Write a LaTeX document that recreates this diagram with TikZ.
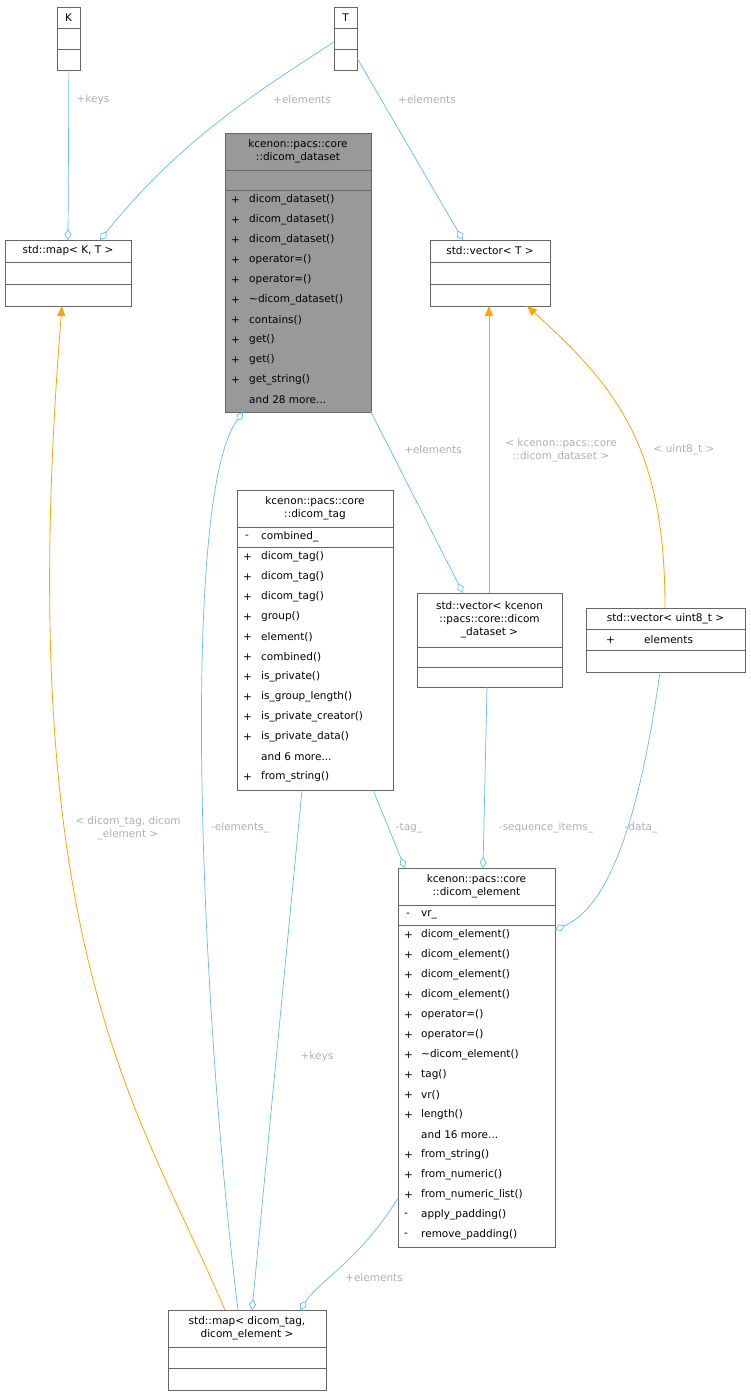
\documentclass[tikz,border=0pt]{standalone}
\usepackage{fontspec}
\setmainfont{DejaVu Sans}
\usetikzlibrary{arrows.meta}
\definecolor{edgeb}{HTML}{63B8FF}
\definecolor{edgeo}{HTML}{FFA500}
\definecolor{lbl}{HTML}{B0B0B0}
\definecolor{bord}{HTML}{666666}
\begin{document}
\begin{tikzpicture}[x=1pt,y=-1pt,
  box/.style={draw=bord,line width=0.8pt,fill=white,inner sep=0,anchor=north west},
  sep/.style={draw=bord,line width=0.8pt},
  ttl/.style={font=\fontsize{10.5}{13}\selectfont,align=center,inner sep=0},
  row/.style={font=\fontsize{10.5}{12}\selectfont,anchor=west,inner sep=0},
  lb/.style={font=\fontsize{10.5}{13}\selectfont,text=lbl,align=center,inner sep=0},
  agg/.style={draw=edgeb,line width=0.7pt,-{Diamond[open,fill=white,length=11pt,width=7pt]}},
  inh/.style={draw=edgeo,line width=0.8pt,-{Triangle[length=10pt,width=8pt]}}]
\useasboundingbox (0,0) rectangle (751,1396);
% K
\node[box,minimum width=23pt,minimum height=63pt] (K) at (57,7) {};
\draw[sep] (57,28)--(80,28) (57,49)--(80,49);
\node[ttl] (Kt) at (68.5,17.5) {K};
% T
\node[box,minimum width=23pt,minimum height=63pt] (T) at (334,7) {};
\draw[sep] (334,28)--(357,28) (334,49)--(357,49);
\node[ttl] (Tt) at (345.5,17.5) {T};
% map<K,T>
\node[box,minimum width=126pt,minimum height=66pt] (mapKT) at (5,240) {};
\draw[sep] (5,262)--(131,262) (5,284)--(131,284);
\node[ttl] (mapKTt) at (68,251) {std::map< K, T >};
% vector<T>
\node[box,minimum width=120pt,minimum height=66pt] (vecT) at (430,240) {};
\draw[sep] (430,262)--(550,262) (430,284)--(550,284);
\node[ttl] (vecTt) at (490,251) {std::vector< T >};
% dataset
\node[box,fill=black!40,minimum width=146pt,minimum height=279pt] (ds) at (225,133) {};
\draw[sep] (225,170)--(371,170) (225,190)--(371,190);
\node[ttl] (dst) at (298,151.5) {kcenon::pacs::core\\::dicom\_dataset};
\foreach \t [count=\i from 0] in {dicom\_dataset(),dicom\_dataset(),dicom\_dataset(),operator=(),operator=(),\textasciitilde dicom\_dataset(),contains(),get(),get(),get\_string()}
  {\node[row] at (231,200+20*\i) {+}; \node[row] at (249,200+20*\i) {\t};}
\node[row] at (249,400) {and 28 more...};
% dicom_tag
\node[box,minimum width=156pt,minimum height=300pt] (tag) at (237,490) {};
\draw[sep] (237,527)--(393,527) (237,547)--(393,547);
\node[ttl] (tagt) at (315,508.5) {kcenon::pacs::core\\::dicom\_tag};
\node[row] at (245,537) {-}; \node[row] at (261,537) {combined\_};
\foreach \t [count=\i from 0] in {dicom\_tag(),dicom\_tag(),dicom\_tag(),group(),element(),combined(),is\_private(),is\_group\_length(),is\_private\_creator(),is\_private\_data()}
  {\node[row] at (243,557+20*\i) {+}; \node[row] at (261,557+20*\i) {\t};}
\node[row] at (261,757) {and 6 more...};
\node[row] at (243,777) {+}; \node[row] at (261,777) {from\_string()};
% vector<dataset>
\node[box,minimum width=145pt,minimum height=94pt] (vecD) at (417,593) {};
\draw[sep] (417,647)--(562,647) (417,667)--(562,667);
\node[ttl] (vecDt) at (489.5,620) {std::vector< kcenon\\::pacs::core::dicom\\\_dataset >};
% vector<uint8_t>
\node[box,minimum width=159pt,minimum height=64pt] (vecU) at (586,608) {};
\draw[sep] (586,629)--(745,629) (586,650)--(745,650);
\node[ttl] (vecUt) at (665.5,618.5) {std::vector< uint8\_t >};
\node[row] at (606,640) {+}; \node[row] at (644,640) {elements};
% dicom_element
\node[box,minimum width=157pt,minimum height=379pt] (el) at (398,868) {};
\draw[sep] (398,905)--(555,905) (398,925)--(555,925);
\node[ttl] (elt) at (476.5,886.5) {kcenon::pacs::core\\::dicom\_element};
\node[row] at (406,915) {-}; \node[row] at (421,915) {vr\_};
\foreach \s/\t [count=\i from 0] in {+/dicom\_element(),+/dicom\_element(),+/dicom\_element(),+/dicom\_element(),+/operator=(),+/operator=(),+/\textasciitilde dicom\_element(),+/tag(),+/vr(),+/length()}
  {\node[row] at (404,935+20*\i) {\s}; \node[row] at (421,935+20*\i) {\t};}
\node[row] at (421,1135) {and 16 more...};
\foreach \s/\t [count=\i from 0] in {+/from\_string(),+/from\_numeric(),+/from\_numeric\_list(),-/apply\_padding(),-/remove\_padding()}
  {\node[row] at (404,1155+20*\i) {\s}; \node[row] at (421,1155+20*\i) {\t};}
% map<dicom_tag, dicom_element>
\node[box,minimum width=158pt,minimum height=80pt] (mapTE) at (168,1310) {};
\draw[sep] (168,1347)--(326,1347) (168,1368)--(326,1368);
\node[ttl] (mapTEt) at (247,1328.5) {std::map< dicom\_tag,\\dicom\_element >};
% edges
\draw[agg] (K.south) -- (68,240);
\draw[agg] (334,42) .. controls (260,90) and (180,140) .. (100,240);
\draw[agg] (357,58) -- (463,240);
\draw[agg] (371,412) -- (463,593);
\draw[inh] (489,593) -- (489,306);
\draw[inh] (665,608) .. controls (665,450) and (620,390) .. (527,306);
\draw[agg] (487,687) -- (483,868);
\draw[agg] (660,672) .. controls (635,850) and (600,910) .. (555,930);
\draw[agg] (373,790) -- (405,868);
\draw[agg] (238,1310) .. controls (200,1000) and (180,500) .. (243,412);
\draw[agg] (302,790) -- (252,1310);
\draw[agg] (398,1198) .. controls (360,1260) and (320,1280) .. (300,1310);
\draw[inh] (225,1310) .. controls (140,1110) and (10,950) .. (62,306);
% labels
\node[lb] (l1) at (93,100) {+keys};
\node[lb] (l2) at (302,100) {+elements};
\node[lb] (l3) at (427,100) {+elements};
\node[lb] (l4) at (433,450) {+elements};
\node[lb] (l5) at (561,450) {< kcenon::pacs::core\\::dicom\_dataset >};
\node[lb] (l6) at (684,450) {< uint8\_t >};
\node[lb] (l7) at (128,828) {< dicom\_tag, dicom\\\_element >};
\node[lb] (l8) at (240,828) {-elements\_};
\node[lb] (l9) at (409,828) {-tag\_};
\node[lb] (l10) at (546,828) {-sequence\_items\_};
\node[lb] (l11) at (641,828) {-data\_};
\node[lb] (l12) at (317,1057) {+keys};
\node[lb] (l13) at (374,1278) {+elements};
\end{tikzpicture}
\end{document}
